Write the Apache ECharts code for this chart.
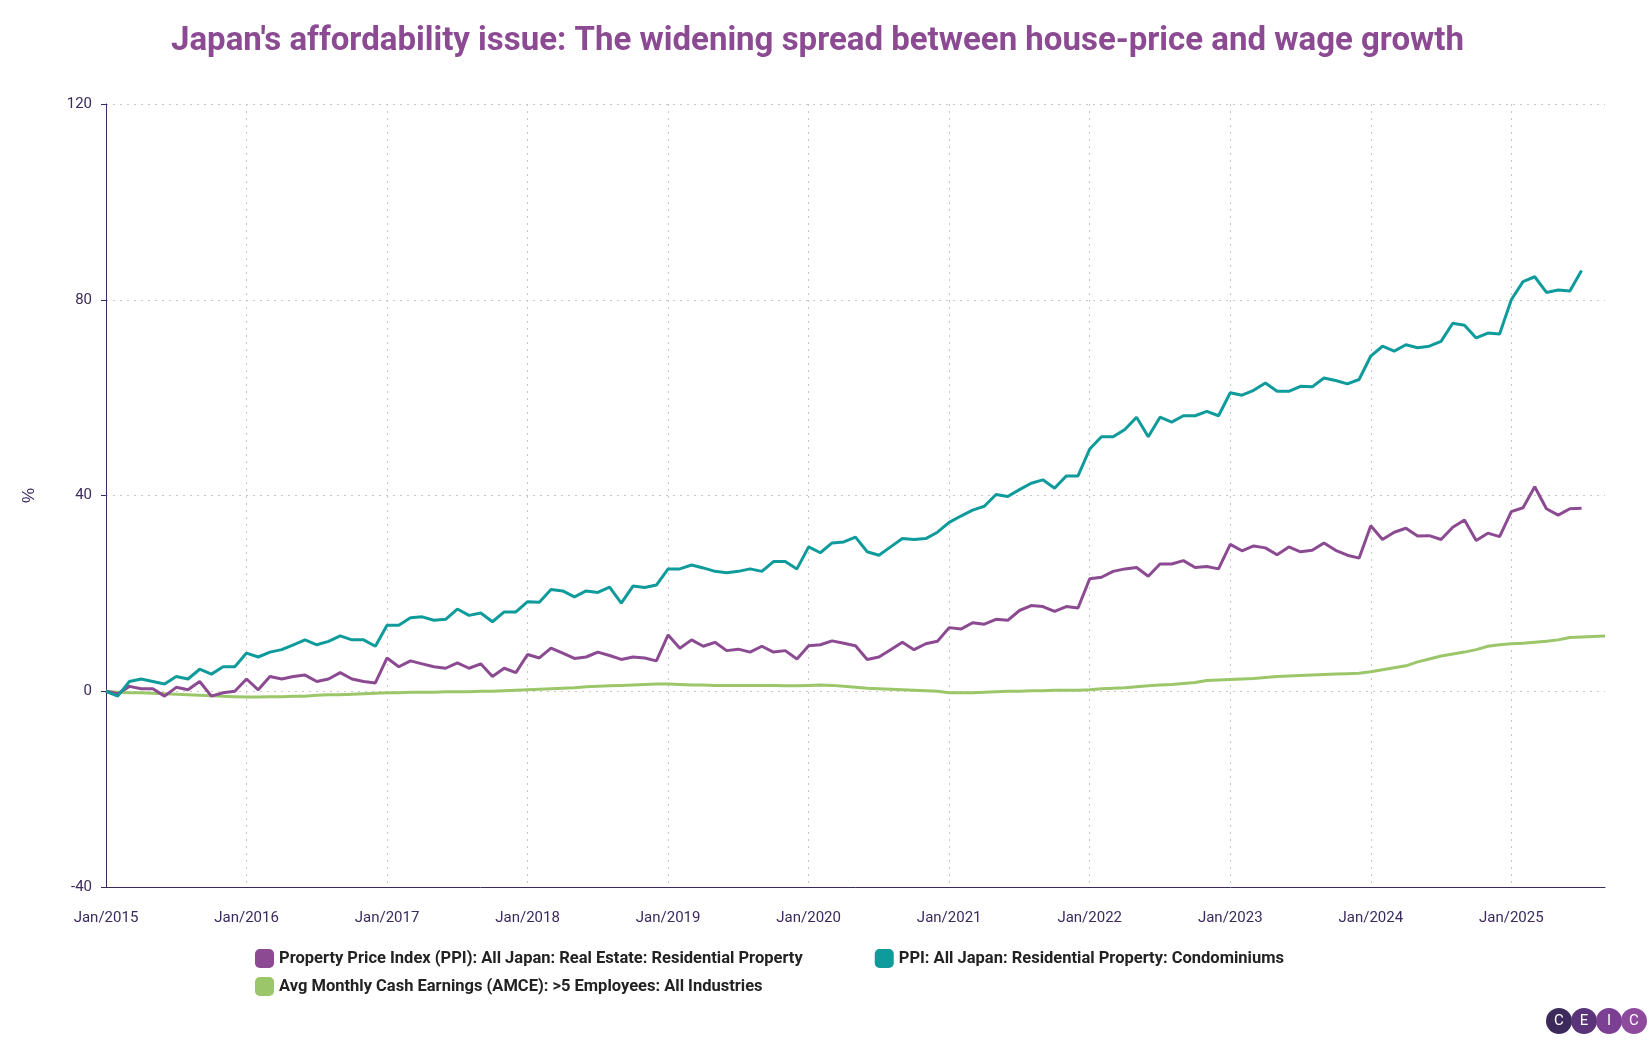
<!DOCTYPE html>
<html><head><meta charset="utf-8">
<script src="https://cdn.jsdelivr.net/npm/echarts@6/dist/echarts.min.js"></script>
<style>html,body{margin:0;padding:0;background:#fff}#c{width:1650px;height:1050px}</style>
</head><body><div id="c"></div>
<script>
const years=[2015,2016,2017,2018,2019,2020,2021,2022,2023,2024,2025];
const months=['Jan','Feb','Mar','Apr','May','Jun','Jul','Aug','Sep','Oct','Nov','Dec'];
const categories=[];
years.forEach(y=>months.forEach((m,i)=>{if(y<2025||i<9)categories.push(m+'/'+y);}));
const ppiResidential=[
0,-0.5,1,0.5,0.5,-1,0.8,0.3,2,-1,-0.3,0,
2.5,0.3,3,2.5,3,3.3,2,2.5,3.8,2.5,2,1.7,
6.8,5,6.2,5.6,5,4.7,5.8,4.7,5.6,3,4.7,3.8,
7.5,6.8,8.8,7.8,6.7,7,8,7.3,6.5,7,6.8,6.2,
11.5,8.8,10.5,9.2,10,8.3,8.6,8,9.2,8,8.3,6.6,
9.3,9.5,10.3,9.8,9.3,6.5,7,8.5,10,8.5,9.7,10.2,
13,12.7,14,13.7,14.7,14.5,16.5,17.5,17.3,16.3,17.3,17,
23,23.3,24.5,25,25.3,23.5,26,26,26.7,25.3,25.5,25,
30,28.7,29.7,29.3,27.9,29.5,28.5,28.8,30.3,28.8,27.8,27.2,
33.8,31,32.5,33.3,31.7,31.8,31,33.5,35,30.8,32.3,31.6,
36.7,37.5,41.8,37.3,36,37.3,37.4];
const ppiCondo=[
0,-1,2,2.5,2,1.5,3,2.5,4.5,3.5,5,5,
7.8,7,8,8.5,9.5,10.5,9.5,10.2,11.3,10.5,10.5,9.2,
13.5,13.5,15,15.2,14.5,14.7,16.8,15.5,16,14.2,16.2,16.2,
18.3,18.2,20.8,20.5,19.3,20.5,20.2,21.3,18,21.5,21.2,21.7,
25,25,25.8,25.2,24.5,24.2,24.5,25,24.5,26.5,26.5,25,
29.5,28.3,30.3,30.5,31.5,28.5,27.8,29.5,31.2,31,31.2,32.5,
34.5,35.8,37,37.8,40.2,39.8,41.2,42.5,43.2,41.5,44,44,
49.5,52,52,53.5,56,52,56,55,56.3,56.3,57.2,56.3,
61,60.5,61.5,63,61.3,61.3,62.3,62.2,64,63.5,62.8,63.7,
68.5,70.5,69.5,70.8,70.2,70.5,71.5,75.2,74.8,72.2,73.2,73,
80,83.7,84.7,81.5,82,81.8,86];
const earnings=[
0,-0.2,-0.3,-0.3,-0.4,-0.5,-0.6,-0.7,-0.8,-0.9,-1,-1.1,
-1.2,-1.2,-1.1,-1.1,-1,-1,-0.8,-0.7,-0.7,-0.6,-0.5,-0.4,
-0.3,-0.3,-0.2,-0.2,-0.2,-0.1,-0.1,-0.1,0,0,0.1,0.2,
0.3,0.4,0.5,0.6,0.7,0.9,1,1.1,1.2,1.3,1.4,1.5,
1.5,1.4,1.3,1.3,1.2,1.2,1.2,1.2,1.2,1.2,1.1,1.1,
1.2,1.3,1.2,1,0.8,0.6,0.5,0.4,0.3,0.2,0.1,0,
-0.3,-0.3,-0.3,-0.2,-0.1,0,0,0.1,0.1,0.2,0.2,0.2,
0.3,0.5,0.6,0.7,0.9,1.1,1.3,1.4,1.6,1.8,2.2,2.3,
2.4,2.5,2.6,2.8,3,3.1,3.2,3.3,3.4,3.5,3.6,3.7,
4,4.4,4.8,5.2,6,6.6,7.2,7.6,8,8.5,9.2,9.5,
9.7,9.8,10,10.2,10.5,11,11.1,11.2,11.3];
const names=['Property Price Index (PPI): All Japan: Real Estate: Residential Property','PPI: All Japan: Residential Property: Condominiums','Avg Monthly Cash Earnings (AMCE): >5 Employees: All Industries'];
const yTicks={min:-40,max:120,interval:40};
const chart=echarts.init(document.getElementById('c'));
const yr=(i)=>i%12===0;
const ceic=['C','E','I','C'],ceicCol=['#3d2a5c','#5a3378','#7b3f93','#8e4a9c'];
const logo=ceic.map((t,i)=>({type:'group',left:1546+i*25,top:1008,children:[
 {type:'circle',shape:{cx:13,cy:13,r:13},style:{fill:ceicCol[i]}},
 {type:'text',style:{text:t,x:13,y:13,align:'center',verticalAlign:'middle',fill:'#fff',font:'15px Roboto'}}]}));
const legText={fontSize:16.5,fontWeight:'bold',color:'#222',fontFamily:'Roboto'};
chart.setOption({
 animation:false,
 title:{text:"Japan's affordability issue: The widening spread between house-price and wage growth",left:166,top:20,textStyle:{color:'#8b4a91',fontSize:33,fontWeight:'bold',fontFamily:'Roboto'}},
 grid:{left:106,right:45,top:104,bottom:163},
 legend:[
  {data:[names[0],names[1]],left:250,top:944,itemWidth:19,itemHeight:19,itemGap:72,icon:'roundRect',textStyle:legText},
  {data:[names[2]],left:250,top:972,itemWidth:19,itemHeight:19,icon:'roundRect',textStyle:legText}],
 xAxis:{type:'category',data:categories,boundaryGap:false,
  axisLine:{onZero:false,lineStyle:{color:'#3b2a5e'}},axisTick:{show:false},
  axisLabel:{interval:(i)=>yr(i),color:'#3b2a5e',fontSize:15,margin:24,fontFamily:'Roboto'},
  splitLine:{show:true,interval:(i)=>yr(i),lineStyle:{type:[2,5],color:'#c8c8c8'}}},
 yAxis:{type:'value',min:yTicks.min,max:yTicks.max,interval:yTicks.interval,name:'%',nameLocation:'middle',nameGap:68,nameRotate:90,
  nameTextStyle:{color:'#3b2a5e',fontSize:17},
  axisLine:{show:true,lineStyle:{color:'#3b2a5e'}},axisTick:{show:true,length:5,lineStyle:{color:'#3b2a5e'}},
  axisLabel:{color:'#3b2a5e',fontSize:15,margin:14,fontFamily:'Roboto'},
  splitLine:{lineStyle:{type:[2,5],color:'#c8c8c8'}}},
 series:[
  {name:names[0],type:'line',data:ppiResidential,showSymbol:false,lineStyle:{width:3,color:'#8b4a91'},itemStyle:{color:'#8b4a91'}},
  {name:names[1],type:'line',data:ppiCondo,showSymbol:false,lineStyle:{width:3,color:'#0f9b9b'},itemStyle:{color:'#0f9b9b'}},
  {name:names[2],type:'line',data:earnings,showSymbol:false,lineStyle:{width:3,color:'#9cc66a'},itemStyle:{color:'#9cc66a'},z:1}],
 graphic:logo
});
</script></body></html>
